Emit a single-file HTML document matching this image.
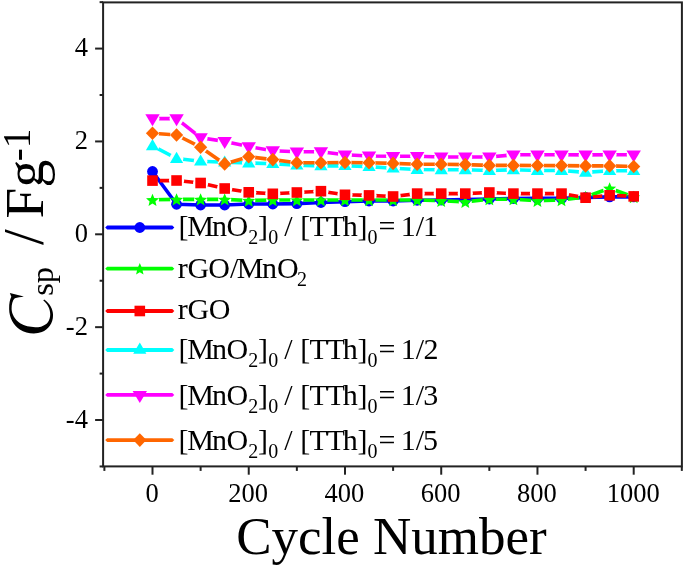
<!DOCTYPE html><html><head><meta charset="utf-8"><style>html,body{margin:0;padding:0;background:#fff;}body{width:685px;height:569px;overflow:hidden;}svg{display:block;will-change:transform;}text{font-family:"Liberation Serif",serif;fill:#000;}</style></head><body>
<svg width="685" height="569" viewBox="0 0 685 569">
<rect width="685" height="569" fill="#fff"/>
<defs>
<mask id="m_blu" maskUnits="userSpaceOnUse" x="0" y="0" width="685" height="569">
<rect width="685" height="569" fill="#fff"/>
</mask>
<mask id="m_gre" maskUnits="userSpaceOnUse" x="0" y="0" width="685" height="569">
<rect width="685" height="569" fill="#fff"/>
<circle cx="152.5" cy="199.8" r="6.6" fill="#000"/>
<circle cx="176.56" cy="199.4" r="6.6" fill="#000"/>
<circle cx="200.62" cy="199.4" r="6.6" fill="#000"/>
<circle cx="224.68" cy="199.4" r="6.6" fill="#000"/>
<circle cx="248.74" cy="200.5" r="6.6" fill="#000"/>
<circle cx="272.8" cy="200" r="6.6" fill="#000"/>
<circle cx="296.86" cy="200" r="6.6" fill="#000"/>
<circle cx="320.92" cy="200" r="6.6" fill="#000"/>
<circle cx="344.98" cy="200" r="6.6" fill="#000"/>
<circle cx="369.04" cy="200" r="6.6" fill="#000"/>
<circle cx="393.1" cy="200" r="6.6" fill="#000"/>
<circle cx="417.16" cy="200" r="6.6" fill="#000"/>
<circle cx="441.22" cy="200.8" r="6.6" fill="#000"/>
<circle cx="465.28" cy="201.9" r="6.6" fill="#000"/>
<circle cx="489.34" cy="199.2" r="6.6" fill="#000"/>
<circle cx="513.4" cy="199.2" r="6.6" fill="#000"/>
<circle cx="537.46" cy="200.8" r="6.6" fill="#000"/>
<circle cx="561.52" cy="200" r="6.6" fill="#000"/>
<circle cx="585.58" cy="197" r="6.6" fill="#000"/>
<circle cx="609.64" cy="188.3" r="6.6" fill="#000"/>
<circle cx="633.7" cy="197" r="6.6" fill="#000"/>
</mask>
<mask id="m_red" maskUnits="userSpaceOnUse" x="0" y="0" width="685" height="569">
<rect width="685" height="569" fill="#fff"/>
<circle cx="152.5" cy="180.6" r="7.6" fill="#000"/>
<circle cx="176.56" cy="180.5" r="7.6" fill="#000"/>
<circle cx="200.62" cy="183" r="7.6" fill="#000"/>
<circle cx="224.68" cy="188.5" r="7.6" fill="#000"/>
<circle cx="248.74" cy="192.3" r="7.6" fill="#000"/>
<circle cx="272.8" cy="193.8" r="7.6" fill="#000"/>
<circle cx="296.86" cy="192.5" r="7.6" fill="#000"/>
<circle cx="320.92" cy="191.2" r="7.6" fill="#000"/>
<circle cx="344.98" cy="194.8" r="7.6" fill="#000"/>
<circle cx="369.04" cy="195.4" r="7.6" fill="#000"/>
<circle cx="393.1" cy="196.5" r="7.6" fill="#000"/>
<circle cx="417.16" cy="193.6" r="7.6" fill="#000"/>
<circle cx="441.22" cy="193.6" r="7.6" fill="#000"/>
<circle cx="465.28" cy="193.6" r="7.6" fill="#000"/>
<circle cx="489.34" cy="192.5" r="7.6" fill="#000"/>
<circle cx="513.4" cy="193.6" r="7.6" fill="#000"/>
<circle cx="537.46" cy="193.6" r="7.6" fill="#000"/>
<circle cx="561.52" cy="193.6" r="7.6" fill="#000"/>
<circle cx="585.58" cy="197.7" r="7.6" fill="#000"/>
<circle cx="609.64" cy="195.3" r="7.6" fill="#000"/>
<circle cx="633.7" cy="196.4" r="7.6" fill="#000"/>
</mask>
<mask id="m_cya" maskUnits="userSpaceOnUse" x="0" y="0" width="685" height="569">
<rect width="685" height="569" fill="#fff"/>
<circle cx="152.5" cy="145.8" r="6.8" fill="#000"/>
<circle cx="176.56" cy="158.5" r="6.8" fill="#000"/>
<circle cx="200.62" cy="161.2" r="6.8" fill="#000"/>
<circle cx="224.68" cy="162.2" r="6.8" fill="#000"/>
<circle cx="248.74" cy="163" r="6.8" fill="#000"/>
<circle cx="272.8" cy="163.7" r="6.8" fill="#000"/>
<circle cx="296.86" cy="165.2" r="6.8" fill="#000"/>
<circle cx="320.92" cy="165.9" r="6.8" fill="#000"/>
<circle cx="344.98" cy="165.7" r="6.8" fill="#000"/>
<circle cx="369.04" cy="166.6" r="6.8" fill="#000"/>
<circle cx="393.1" cy="168.2" r="6.8" fill="#000"/>
<circle cx="417.16" cy="169.5" r="6.8" fill="#000"/>
<circle cx="441.22" cy="169.8" r="6.8" fill="#000"/>
<circle cx="465.28" cy="169.8" r="6.8" fill="#000"/>
<circle cx="489.34" cy="170.5" r="6.8" fill="#000"/>
<circle cx="513.4" cy="169.8" r="6.8" fill="#000"/>
<circle cx="537.46" cy="170.5" r="6.8" fill="#000"/>
<circle cx="561.52" cy="170.5" r="6.8" fill="#000"/>
<circle cx="585.58" cy="172.4" r="6.8" fill="#000"/>
<circle cx="609.64" cy="170.7" r="6.8" fill="#000"/>
<circle cx="633.7" cy="170.7" r="6.8" fill="#000"/>
</mask>
<mask id="m_mag" maskUnits="userSpaceOnUse" x="0" y="0" width="685" height="569">
<rect width="685" height="569" fill="#fff"/>
<circle cx="152.5" cy="118.6" r="7" fill="#000"/>
<circle cx="176.56" cy="118.6" r="7" fill="#000"/>
<circle cx="200.62" cy="137.7" r="7" fill="#000"/>
<circle cx="224.68" cy="141.4" r="7" fill="#000"/>
<circle cx="248.74" cy="146.6" r="7" fill="#000"/>
<circle cx="272.8" cy="150.7" r="7" fill="#000"/>
<circle cx="296.86" cy="151.8" r="7" fill="#000"/>
<circle cx="320.92" cy="151.7" r="7" fill="#000"/>
<circle cx="344.98" cy="154.8" r="7" fill="#000"/>
<circle cx="369.04" cy="156" r="7" fill="#000"/>
<circle cx="393.1" cy="156.3" r="7" fill="#000"/>
<circle cx="417.16" cy="156.3" r="7" fill="#000"/>
<circle cx="441.22" cy="157" r="7" fill="#000"/>
<circle cx="465.28" cy="157" r="7" fill="#000"/>
<circle cx="489.34" cy="157" r="7" fill="#000"/>
<circle cx="513.4" cy="154.8" r="7" fill="#000"/>
<circle cx="537.46" cy="154.8" r="7" fill="#000"/>
<circle cx="561.52" cy="154.8" r="7" fill="#000"/>
<circle cx="585.58" cy="154.9" r="7" fill="#000"/>
<circle cx="609.64" cy="154.8" r="7" fill="#000"/>
<circle cx="633.7" cy="154.8" r="7" fill="#000"/>
</mask>
<mask id="m_ora" maskUnits="userSpaceOnUse" x="0" y="0" width="685" height="569">
<rect width="685" height="569" fill="#fff"/>
<circle cx="152.5" cy="133.2" r="6.6" fill="#000"/>
<circle cx="176.56" cy="135" r="6.6" fill="#000"/>
<circle cx="200.62" cy="147.2" r="6.6" fill="#000"/>
<circle cx="224.68" cy="163.9" r="6.6" fill="#000"/>
<circle cx="248.74" cy="156.8" r="6.6" fill="#000"/>
<circle cx="272.8" cy="159.6" r="6.6" fill="#000"/>
<circle cx="296.86" cy="162.7" r="6.6" fill="#000"/>
<circle cx="320.92" cy="162.7" r="6.6" fill="#000"/>
<circle cx="344.98" cy="162.5" r="6.6" fill="#000"/>
<circle cx="369.04" cy="162.8" r="6.6" fill="#000"/>
<circle cx="393.1" cy="163.4" r="6.6" fill="#000"/>
<circle cx="417.16" cy="164.3" r="6.6" fill="#000"/>
<circle cx="441.22" cy="164.3" r="6.6" fill="#000"/>
<circle cx="465.28" cy="164.6" r="6.6" fill="#000"/>
<circle cx="489.34" cy="165.4" r="6.6" fill="#000"/>
<circle cx="513.4" cy="165.4" r="6.6" fill="#000"/>
<circle cx="537.46" cy="165.5" r="6.6" fill="#000"/>
<circle cx="561.52" cy="165.6" r="6.6" fill="#000"/>
<circle cx="585.58" cy="165.9" r="6.6" fill="#000"/>
<circle cx="609.64" cy="165.9" r="6.6" fill="#000"/>
<circle cx="633.7" cy="166.5" r="6.6" fill="#000"/>
</mask>
</defs>
<polyline points="152.5,171.5 176.56,204.3 200.62,205 224.68,205 248.74,204 272.8,204 296.86,203.6 320.92,202.5 344.98,201.7 369.04,201 393.1,201 417.16,200.3 441.22,200 465.28,199.5 489.34,199 513.4,198.5 537.46,198.4 561.52,198.4 585.58,197.5 609.64,196.9 633.7,196.9" fill="none" stroke="#0000FF" stroke-width="3.6" stroke-linejoin="round" mask="url(#m_blu)"/>
<g fill="#0000FF">
<circle cx="152.5" cy="171.5" r="5.4"/>
<circle cx="176.56" cy="204.3" r="5.4"/>
<circle cx="200.62" cy="205" r="5.4"/>
<circle cx="224.68" cy="205" r="5.4"/>
<circle cx="248.74" cy="204" r="5.4"/>
<circle cx="272.8" cy="204" r="5.4"/>
<circle cx="296.86" cy="203.6" r="5.4"/>
<circle cx="320.92" cy="202.5" r="5.4"/>
<circle cx="344.98" cy="201.7" r="5.4"/>
<circle cx="369.04" cy="201" r="5.4"/>
<circle cx="393.1" cy="201" r="5.4"/>
<circle cx="417.16" cy="200.3" r="5.4"/>
<circle cx="441.22" cy="200" r="5.4"/>
<circle cx="465.28" cy="199.5" r="5.4"/>
<circle cx="489.34" cy="199" r="5.4"/>
<circle cx="513.4" cy="198.5" r="5.4"/>
<circle cx="537.46" cy="198.4" r="5.4"/>
<circle cx="561.52" cy="198.4" r="5.4"/>
<circle cx="585.58" cy="197.5" r="5.4"/>
<circle cx="609.64" cy="196.9" r="5.4"/>
<circle cx="633.7" cy="196.9" r="5.4"/>
</g>
<polyline points="152.5,199.8 176.56,199.4 200.62,199.4 224.68,199.4 248.74,200.5 272.8,200 296.86,200 320.92,200 344.98,200 369.04,200 393.1,200 417.16,200 441.22,200.8 465.28,201.9 489.34,199.2 513.4,199.2 537.46,200.8 561.52,200 585.58,197 609.64,188.3 633.7,197" fill="none" stroke="#00FF00" stroke-width="3.6" stroke-linejoin="round" mask="url(#m_gre)"/>
<g fill="#00FF00">
<polygon points="152.5,193.65 154.3,197.97 158.97,198.35 155.41,201.39 156.5,205.95 152.5,203.51 148.5,205.95 149.59,201.39 146.03,198.35 150.7,197.97"/>
<polygon points="176.56,193.25 178.36,197.57 183.03,197.95 179.47,200.99 180.56,205.55 176.56,203.11 172.56,205.55 173.65,200.99 170.09,197.95 174.76,197.57"/>
<polygon points="200.62,193.25 202.42,197.57 207.09,197.95 203.53,200.99 204.62,205.55 200.62,203.11 196.62,205.55 197.71,200.99 194.15,197.95 198.82,197.57"/>
<polygon points="224.68,193.25 226.48,197.57 231.15,197.95 227.59,200.99 228.68,205.55 224.68,203.11 220.68,205.55 221.77,200.99 218.21,197.95 222.88,197.57"/>
<polygon points="248.74,194.35 250.54,198.67 255.21,199.05 251.65,202.09 252.74,206.65 248.74,204.21 244.74,206.65 245.83,202.09 242.27,199.05 246.94,198.67"/>
<polygon points="272.8,193.85 274.6,198.17 279.27,198.55 275.71,201.59 276.8,206.15 272.8,203.71 268.8,206.15 269.89,201.59 266.33,198.55 271,198.17"/>
<polygon points="296.86,193.85 298.66,198.17 303.33,198.55 299.77,201.59 300.86,206.15 296.86,203.71 292.86,206.15 293.95,201.59 290.39,198.55 295.06,198.17"/>
<polygon points="320.92,193.85 322.72,198.17 327.39,198.55 323.83,201.59 324.92,206.15 320.92,203.71 316.92,206.15 318.01,201.59 314.45,198.55 319.12,198.17"/>
<polygon points="344.98,193.85 346.78,198.17 351.45,198.55 347.89,201.59 348.98,206.15 344.98,203.71 340.98,206.15 342.07,201.59 338.51,198.55 343.18,198.17"/>
<polygon points="369.04,193.85 370.84,198.17 375.51,198.55 371.95,201.59 373.04,206.15 369.04,203.71 365.04,206.15 366.13,201.59 362.57,198.55 367.24,198.17"/>
<polygon points="393.1,193.85 394.9,198.17 399.57,198.55 396.01,201.59 397.1,206.15 393.1,203.71 389.1,206.15 390.19,201.59 386.63,198.55 391.3,198.17"/>
<polygon points="417.16,193.85 418.96,198.17 423.63,198.55 420.07,201.59 421.16,206.15 417.16,203.71 413.16,206.15 414.25,201.59 410.69,198.55 415.36,198.17"/>
<polygon points="441.22,194.65 443.02,198.97 447.69,199.35 444.13,202.39 445.22,206.95 441.22,204.51 437.22,206.95 438.31,202.39 434.75,199.35 439.42,198.97"/>
<polygon points="465.28,195.75 467.08,200.07 471.75,200.45 468.19,203.49 469.28,208.05 465.28,205.61 461.28,208.05 462.37,203.49 458.81,200.45 463.48,200.07"/>
<polygon points="489.34,193.05 491.14,197.37 495.81,197.75 492.25,200.79 493.34,205.35 489.34,202.91 485.34,205.35 486.43,200.79 482.87,197.75 487.54,197.37"/>
<polygon points="513.4,193.05 515.2,197.37 519.87,197.75 516.31,200.79 517.4,205.35 513.4,202.91 509.4,205.35 510.49,200.79 506.93,197.75 511.6,197.37"/>
<polygon points="537.46,194.65 539.26,198.97 543.93,199.35 540.37,202.39 541.46,206.95 537.46,204.51 533.46,206.95 534.55,202.39 530.99,199.35 535.66,198.97"/>
<polygon points="561.52,193.85 563.32,198.17 567.99,198.55 564.43,201.59 565.52,206.15 561.52,203.71 557.52,206.15 558.61,201.59 555.05,198.55 559.72,198.17"/>
<polygon points="585.58,190.85 587.38,195.17 592.05,195.55 588.49,198.59 589.58,203.15 585.58,200.71 581.58,203.15 582.67,198.59 579.11,195.55 583.78,195.17"/>
<polygon points="609.64,182.15 611.44,186.47 616.11,186.85 612.55,189.89 613.64,194.45 609.64,192.01 605.64,194.45 606.73,189.89 603.17,186.85 607.84,186.47"/>
<polygon points="633.7,190.85 635.5,195.17 640.17,195.55 636.61,198.59 637.7,203.15 633.7,200.71 629.7,203.15 630.79,198.59 627.23,195.55 631.9,195.17"/>
</g>
<polyline points="152.5,180.6 176.56,180.5 200.62,183 224.68,188.5 248.74,192.3 272.8,193.8 296.86,192.5 320.92,191.2 344.98,194.8 369.04,195.4 393.1,196.5 417.16,193.6 441.22,193.6 465.28,193.6 489.34,192.5 513.4,193.6 537.46,193.6 561.52,193.6 585.58,197.7 609.64,195.3 633.7,196.4" fill="none" stroke="#FF0000" stroke-width="3.6" stroke-linejoin="round" mask="url(#m_red)"/>
<g fill="#FF0000">
<rect x="147.2" y="175.3" width="10.6" height="10.6"/>
<rect x="171.26" y="175.2" width="10.6" height="10.6"/>
<rect x="195.32" y="177.7" width="10.6" height="10.6"/>
<rect x="219.38" y="183.2" width="10.6" height="10.6"/>
<rect x="243.44" y="187" width="10.6" height="10.6"/>
<rect x="267.5" y="188.5" width="10.6" height="10.6"/>
<rect x="291.56" y="187.2" width="10.6" height="10.6"/>
<rect x="315.62" y="185.9" width="10.6" height="10.6"/>
<rect x="339.68" y="189.5" width="10.6" height="10.6"/>
<rect x="363.74" y="190.1" width="10.6" height="10.6"/>
<rect x="387.8" y="191.2" width="10.6" height="10.6"/>
<rect x="411.86" y="188.3" width="10.6" height="10.6"/>
<rect x="435.92" y="188.3" width="10.6" height="10.6"/>
<rect x="459.98" y="188.3" width="10.6" height="10.6"/>
<rect x="484.04" y="187.2" width="10.6" height="10.6"/>
<rect x="508.1" y="188.3" width="10.6" height="10.6"/>
<rect x="532.16" y="188.3" width="10.6" height="10.6"/>
<rect x="556.22" y="188.3" width="10.6" height="10.6"/>
<rect x="580.28" y="192.4" width="10.6" height="10.6"/>
<rect x="604.34" y="190" width="10.6" height="10.6"/>
<rect x="628.4" y="191.1" width="10.6" height="10.6"/>
</g>
<polyline points="152.5,145.8 176.56,158.5 200.62,161.2 224.68,162.2 248.74,163 272.8,163.7 296.86,165.2 320.92,165.9 344.98,165.7 369.04,166.6 393.1,168.2 417.16,169.5 441.22,169.8 465.28,169.8 489.34,170.5 513.4,169.8 537.46,170.5 561.52,170.5 585.58,172.4 609.64,170.7 633.7,170.7" fill="none" stroke="#00FFFF" stroke-width="3.6" stroke-linejoin="round" mask="url(#m_cya)"/>
<g fill="#00FFFF">
<polygon points="152.5,139 159.1,150.2 145.9,150.2"/>
<polygon points="176.56,151.7 183.16,162.9 169.96,162.9"/>
<polygon points="200.62,154.4 207.22,165.6 194.02,165.6"/>
<polygon points="224.68,155.4 231.28,166.6 218.08,166.6"/>
<polygon points="248.74,156.2 255.34,167.4 242.14,167.4"/>
<polygon points="272.8,156.9 279.4,168.1 266.2,168.1"/>
<polygon points="296.86,158.4 303.46,169.6 290.26,169.6"/>
<polygon points="320.92,159.1 327.52,170.3 314.32,170.3"/>
<polygon points="344.98,158.9 351.58,170.1 338.38,170.1"/>
<polygon points="369.04,159.8 375.64,171 362.44,171"/>
<polygon points="393.1,161.4 399.7,172.6 386.5,172.6"/>
<polygon points="417.16,162.7 423.76,173.9 410.56,173.9"/>
<polygon points="441.22,163 447.82,174.2 434.62,174.2"/>
<polygon points="465.28,163 471.88,174.2 458.68,174.2"/>
<polygon points="489.34,163.7 495.94,174.9 482.74,174.9"/>
<polygon points="513.4,163 520,174.2 506.8,174.2"/>
<polygon points="537.46,163.7 544.06,174.9 530.86,174.9"/>
<polygon points="561.52,163.7 568.12,174.9 554.92,174.9"/>
<polygon points="585.58,165.6 592.18,176.8 578.98,176.8"/>
<polygon points="609.64,163.9 616.24,175.1 603.04,175.1"/>
<polygon points="633.7,163.9 640.3,175.1 627.1,175.1"/>
</g>
<polyline points="152.5,118.6 176.56,118.6 200.62,137.7 224.68,141.4 248.74,146.6 272.8,150.7 296.86,151.8 320.92,151.7 344.98,154.8 369.04,156 393.1,156.3 417.16,156.3 441.22,157 465.28,157 489.34,157 513.4,154.8 537.46,154.8 561.52,154.8 585.58,154.9 609.64,154.8 633.7,154.8" fill="none" stroke="#FF00FF" stroke-width="3.6" stroke-linejoin="round" mask="url(#m_mag)"/>
<g fill="#FF00FF">
<polygon points="145.3,114.2 159.7,114.2 152.5,126.2"/>
<polygon points="169.36,114.2 183.76,114.2 176.56,126.2"/>
<polygon points="193.42,133.3 207.82,133.3 200.62,145.3"/>
<polygon points="217.48,137 231.88,137 224.68,149"/>
<polygon points="241.54,142.2 255.94,142.2 248.74,154.2"/>
<polygon points="265.6,146.3 280,146.3 272.8,158.3"/>
<polygon points="289.66,147.4 304.06,147.4 296.86,159.4"/>
<polygon points="313.72,147.3 328.12,147.3 320.92,159.3"/>
<polygon points="337.78,150.4 352.18,150.4 344.98,162.4"/>
<polygon points="361.84,151.6 376.24,151.6 369.04,163.6"/>
<polygon points="385.9,151.9 400.3,151.9 393.1,163.9"/>
<polygon points="409.96,151.9 424.36,151.9 417.16,163.9"/>
<polygon points="434.02,152.6 448.42,152.6 441.22,164.6"/>
<polygon points="458.08,152.6 472.48,152.6 465.28,164.6"/>
<polygon points="482.14,152.6 496.54,152.6 489.34,164.6"/>
<polygon points="506.2,150.4 520.6,150.4 513.4,162.4"/>
<polygon points="530.26,150.4 544.66,150.4 537.46,162.4"/>
<polygon points="554.32,150.4 568.72,150.4 561.52,162.4"/>
<polygon points="578.38,150.5 592.78,150.5 585.58,162.5"/>
<polygon points="602.44,150.4 616.84,150.4 609.64,162.4"/>
<polygon points="626.5,150.4 640.9,150.4 633.7,162.4"/>
</g>
<polyline points="152.5,133.2 176.56,135 200.62,147.2 224.68,163.9 248.74,156.8 272.8,159.6 296.86,162.7 320.92,162.7 344.98,162.5 369.04,162.8 393.1,163.4 417.16,164.3 441.22,164.3 465.28,164.6 489.34,165.4 513.4,165.4 537.46,165.5 561.52,165.6 585.58,165.9 609.64,165.9 633.7,166.5" fill="none" stroke="#FF6600" stroke-width="3.6" stroke-linejoin="round" mask="url(#m_ora)"/>
<g fill="#FF6600">
<polygon points="152.5,126.4 159.1,133.2 152.5,140 145.9,133.2"/>
<polygon points="176.56,128.2 183.16,135 176.56,141.8 169.96,135"/>
<polygon points="200.62,140.4 207.22,147.2 200.62,154 194.02,147.2"/>
<polygon points="224.68,157.1 231.28,163.9 224.68,170.7 218.08,163.9"/>
<polygon points="248.74,150 255.34,156.8 248.74,163.6 242.14,156.8"/>
<polygon points="272.8,152.8 279.4,159.6 272.8,166.4 266.2,159.6"/>
<polygon points="296.86,155.9 303.46,162.7 296.86,169.5 290.26,162.7"/>
<polygon points="320.92,155.9 327.52,162.7 320.92,169.5 314.32,162.7"/>
<polygon points="344.98,155.7 351.58,162.5 344.98,169.3 338.38,162.5"/>
<polygon points="369.04,156 375.64,162.8 369.04,169.6 362.44,162.8"/>
<polygon points="393.1,156.6 399.7,163.4 393.1,170.2 386.5,163.4"/>
<polygon points="417.16,157.5 423.76,164.3 417.16,171.1 410.56,164.3"/>
<polygon points="441.22,157.5 447.82,164.3 441.22,171.1 434.62,164.3"/>
<polygon points="465.28,157.8 471.88,164.6 465.28,171.4 458.68,164.6"/>
<polygon points="489.34,158.6 495.94,165.4 489.34,172.2 482.74,165.4"/>
<polygon points="513.4,158.6 520,165.4 513.4,172.2 506.8,165.4"/>
<polygon points="537.46,158.7 544.06,165.5 537.46,172.3 530.86,165.5"/>
<polygon points="561.52,158.8 568.12,165.6 561.52,172.4 554.92,165.6"/>
<polygon points="585.58,159.1 592.18,165.9 585.58,172.7 578.98,165.9"/>
<polygon points="609.64,159.1 616.24,165.9 609.64,172.7 603.04,165.9"/>
<polygon points="633.7,159.7 640.3,166.5 633.7,173.3 627.1,166.5"/>
</g>
<polygon points="105.2,227.5 107.2,225.6 172.3,225.6 174.3,227.5 172.3,229.4 107.2,229.4" fill="#0000FF"/>
<g fill="#0000FF"><circle cx="139.8" cy="227.5" r="5.4"/></g>
<polygon points="105.2,268.7 107.2,266.8 172.3,266.8 174.3,268.7 172.3,270.6 107.2,270.6" fill="#00FF00"/>
<g fill="#00FF00"><polygon points="139.8,262.98 141.47,267 145.81,267.35 142.51,270.18 143.52,274.42 139.8,272.15 136.08,274.42 137.09,270.18 133.79,267.35 138.13,267"/></g>
<polygon points="105.2,311 107.2,309.1 172.3,309.1 174.3,311 172.3,312.9 107.2,312.9" fill="#FF0000"/>
<g fill="#FF0000"><rect x="134.5" y="305.7" width="10.6" height="10.6"/></g>
<polygon points="105.2,350 107.2,348.1 172.3,348.1 174.3,350 172.3,351.9 107.2,351.9" fill="#00FFFF"/>
<g fill="#00FFFF"><polygon points="139.8,342.53 146.4,353.73 133.2,353.73"/></g>
<polygon points="105.2,394.9 107.2,393 172.3,393 174.3,394.9 172.3,396.8 107.2,396.8" fill="#FF00FF"/>
<g fill="#FF00FF"><polygon points="132.6,390.9 147,390.9 139.8,402.9"/></g>
<polygon points="105.2,440.1 107.2,438.2 172.3,438.2 174.3,440.1 172.3,442 107.2,442" fill="#FF6600"/>
<g fill="#FF6600"><polygon points="139.8,433.3 146.4,440.1 139.8,446.9 133.2,440.1"/></g>
<text><tspan x="178.38" y="236.3" font-size="30">[</tspan><tspan x="187.37" y="236.3" font-size="30">M</tspan><tspan x="212.08" y="236.3" font-size="30">n</tspan><tspan x="226.62" y="236.3" font-size="30">O</tspan><tspan x="248.21" y="244.3" font-size="20">2</tspan><tspan x="257.93" y="236.3" font-size="30">]</tspan><tspan x="268.3" y="244.3" font-size="20">0</tspan><tspan x="284.18" y="236.3" font-size="30">/</tspan><tspan x="300.23" y="236.3" font-size="30">[</tspan><tspan x="309.52" y="236.3" font-size="30">T</tspan><tspan x="326.42" y="236.3" font-size="30">T</tspan><tspan x="342.75" y="236.3" font-size="30">h</tspan><tspan x="357.58" y="236.3" font-size="30">]</tspan><tspan x="367.45" y="244.3" font-size="20">0</tspan><tspan x="378.43" y="236.3" font-size="30">=</tspan><tspan x="400.78" y="236.3" font-size="30">1</tspan><tspan x="415.63" y="236.3" font-size="30">/</tspan><tspan x="422.98" y="236.3" font-size="30">1</tspan></text>
<text><tspan x="177.64" y="278.3" font-size="30">r</tspan><tspan x="187.42" y="278.3" font-size="30">G</tspan><tspan x="208.17" y="278.3" font-size="30">O</tspan><tspan x="229.98" y="278.3" font-size="30">/</tspan><tspan x="236.67" y="278.3" font-size="30">M</tspan><tspan x="261.88" y="278.3" font-size="30">n</tspan><tspan x="277.07" y="278.3" font-size="30">O</tspan><tspan x="297.11" y="286.3" font-size="20">2</tspan></text>
<text><tspan x="177.64" y="319" font-size="30">r</tspan><tspan x="187.42" y="319" font-size="30">G</tspan><tspan x="208.67" y="319" font-size="30">O</tspan></text>
<text><tspan x="178.38" y="358.5" font-size="30">[</tspan><tspan x="187.37" y="358.5" font-size="30">M</tspan><tspan x="212.08" y="358.5" font-size="30">n</tspan><tspan x="226.62" y="358.5" font-size="30">O</tspan><tspan x="248.21" y="366.5" font-size="20">2</tspan><tspan x="257.93" y="358.5" font-size="30">]</tspan><tspan x="268.3" y="366.5" font-size="20">0</tspan><tspan x="284.18" y="358.5" font-size="30">/</tspan><tspan x="300.23" y="358.5" font-size="30">[</tspan><tspan x="309.52" y="358.5" font-size="30">T</tspan><tspan x="326.42" y="358.5" font-size="30">T</tspan><tspan x="342.75" y="358.5" font-size="30">h</tspan><tspan x="357.58" y="358.5" font-size="30">]</tspan><tspan x="367.45" y="366.5" font-size="20">0</tspan><tspan x="378.43" y="358.5" font-size="30">=</tspan><tspan x="400.78" y="358.5" font-size="30">1</tspan><tspan x="415.63" y="358.5" font-size="30">/</tspan><tspan x="423.57" y="358.5" font-size="30">2</tspan></text>
<text><tspan x="178.38" y="404.5" font-size="30">[</tspan><tspan x="187.37" y="404.5" font-size="30">M</tspan><tspan x="212.08" y="404.5" font-size="30">n</tspan><tspan x="226.62" y="404.5" font-size="30">O</tspan><tspan x="248.21" y="412.5" font-size="20">2</tspan><tspan x="257.93" y="404.5" font-size="30">]</tspan><tspan x="268.3" y="412.5" font-size="20">0</tspan><tspan x="284.18" y="404.5" font-size="30">/</tspan><tspan x="300.23" y="404.5" font-size="30">[</tspan><tspan x="309.52" y="404.5" font-size="30">T</tspan><tspan x="326.42" y="404.5" font-size="30">T</tspan><tspan x="342.75" y="404.5" font-size="30">h</tspan><tspan x="357.58" y="404.5" font-size="30">]</tspan><tspan x="367.45" y="412.5" font-size="20">0</tspan><tspan x="378.43" y="404.5" font-size="30">=</tspan><tspan x="400.78" y="404.5" font-size="30">1</tspan><tspan x="415.63" y="404.5" font-size="30">/</tspan><tspan x="423.27" y="404.5" font-size="30">3</tspan></text>
<text><tspan x="178.38" y="449.5" font-size="30">[</tspan><tspan x="187.37" y="449.5" font-size="30">M</tspan><tspan x="212.08" y="449.5" font-size="30">n</tspan><tspan x="226.62" y="449.5" font-size="30">O</tspan><tspan x="248.21" y="457.5" font-size="20">2</tspan><tspan x="257.93" y="449.5" font-size="30">]</tspan><tspan x="268.3" y="457.5" font-size="20">0</tspan><tspan x="284.18" y="449.5" font-size="30">/</tspan><tspan x="300.23" y="449.5" font-size="30">[</tspan><tspan x="309.52" y="449.5" font-size="30">T</tspan><tspan x="326.42" y="449.5" font-size="30">T</tspan><tspan x="342.75" y="449.5" font-size="30">h</tspan><tspan x="357.58" y="449.5" font-size="30">]</tspan><tspan x="367.45" y="457.5" font-size="20">0</tspan><tspan x="378.43" y="449.5" font-size="30">=</tspan><tspan x="400.78" y="449.5" font-size="30">1</tspan><tspan x="415.63" y="449.5" font-size="30">/</tspan><tspan x="423.11" y="449.5" font-size="30">5</tspan></text>
<g stroke="#222" stroke-width="2" fill="none">
<rect x="103.1" y="2.4" width="578.8" height="464"/>
<line x1="99.6" y1="466.45" x2="103.1" y2="466.45"/>
<line x1="95.1" y1="420.02" x2="103.1" y2="420.02"/>
<line x1="99.6" y1="373.59" x2="103.1" y2="373.59"/>
<line x1="95.1" y1="327.16" x2="103.1" y2="327.16"/>
<line x1="99.6" y1="280.73" x2="103.1" y2="280.73"/>
<line x1="95.1" y1="234.3" x2="103.1" y2="234.3"/>
<line x1="99.6" y1="187.87" x2="103.1" y2="187.87"/>
<line x1="95.1" y1="141.44" x2="103.1" y2="141.44"/>
<line x1="99.6" y1="95.01" x2="103.1" y2="95.01"/>
<line x1="95.1" y1="48.58" x2="103.1" y2="48.58"/>
<line x1="99.6" y1="2.15" x2="103.1" y2="2.15"/>
<line x1="104.38" y1="466.4" x2="104.38" y2="470.9"/>
<line x1="152.5" y1="466.4" x2="152.5" y2="474.7"/>
<line x1="200.62" y1="466.4" x2="200.62" y2="470.9"/>
<line x1="248.74" y1="466.4" x2="248.74" y2="474.7"/>
<line x1="296.86" y1="466.4" x2="296.86" y2="470.9"/>
<line x1="344.98" y1="466.4" x2="344.98" y2="474.7"/>
<line x1="393.1" y1="466.4" x2="393.1" y2="470.9"/>
<line x1="441.22" y1="466.4" x2="441.22" y2="474.7"/>
<line x1="489.34" y1="466.4" x2="489.34" y2="470.9"/>
<line x1="537.46" y1="466.4" x2="537.46" y2="474.7"/>
<line x1="585.58" y1="466.4" x2="585.58" y2="470.9"/>
<line x1="633.7" y1="466.4" x2="633.7" y2="474.7"/>
<line x1="681.82" y1="466.4" x2="681.82" y2="470.9"/>
</g>
<text x="87.9" y="56.38" font-size="26.5" text-anchor="end">4</text>
<text x="87.9" y="149.24" font-size="26.5" text-anchor="end">2</text>
<text x="87.9" y="242.1" font-size="26.5" text-anchor="end">0</text>
<text x="87.9" y="334.96" font-size="26.5" text-anchor="end">-2</text>
<text x="87.9" y="427.82" font-size="26.5" text-anchor="end">-4</text>
<text x="152" y="501.7" font-size="26.5" text-anchor="middle">0</text>
<text x="248.24" y="501.7" font-size="26.5" text-anchor="middle">200</text>
<text x="344.48" y="501.7" font-size="26.5" text-anchor="middle">400</text>
<text x="440.72" y="501.7" font-size="26.5" text-anchor="middle">600</text>
<text x="536.96" y="501.7" font-size="26.5" text-anchor="middle">800</text>
<text x="633.2" y="501.7" font-size="26.5" text-anchor="middle">1000</text>
<text x="391.5" y="553.6" font-size="53" text-anchor="middle">Cycle Number</text>
<path d="M 9.83,293.09 L 23.88,296.61 C 20.81,297.31 17.30,297.31 14.84,298.36 C 12.55,300.30 11.50,304.69 11.59,309.08 C 11.76,314.35 14.84,319.62 20.11,323.31 C 26.08,326.82 33.99,327.96 41.01,326.65 C 47.16,325.07 50.23,320.67 50.23,314.35 C 50.23,308.38 47.34,303.63 43.30,300.47 L 44.17,299.59 C 49.80,303.63 53.05,309.08 53.05,315.23 C 53.05,323.31 48.21,329.46 41.89,332.09 C 34.86,334.73 26.08,333.50 19.76,329.46 C 13.61,325.42 9.22,317.86 9.13,309.08 C 9.04,303.37 9.92,299.42 11.32,296.78 Z" fill="#000"/>
<text transform="translate(53.2,295.8) rotate(-90)"><tspan font-size="32.5">sp</tspan></text>
<text transform="translate(43.3,245) rotate(-90)"><tspan font-size="57">/</tspan></text>
<text transform="translate(42.9,218.4) rotate(-90)"><tspan font-size="55.5">Fg</tspan></text>
<text transform="translate(29.9,161.3) rotate(-90)"><tspan font-size="39">-1</tspan></text>
</svg></body></html>
